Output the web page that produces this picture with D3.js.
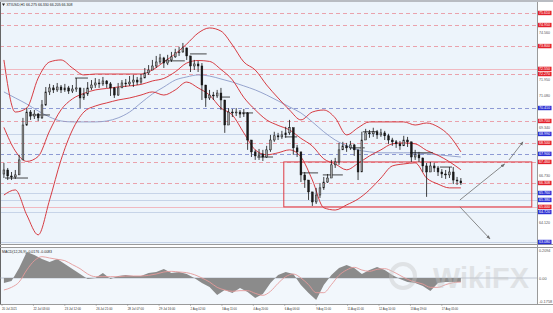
<!DOCTYPE html>
<html><head><meta charset="utf-8">
<script src="https://cdn.jsdelivr.net/npm/d3@7"></script>
<style>
body{margin:0;background:#fff}
svg{display:block}
text{font-family:"Liberation Sans",Arial,sans-serif}
</style></head>
<body><svg id="c" width="553" height="313"></svg>
<script>
// ---------- DATA ----------
const title = "XTIUSD,H1  66.275 66.330 66.205 66.308";
const macdTitle = "MACD(12,26,9) -0.0176 -0.0083";
// 4-hour bars (hour index = 4*i)
const firstOpen = 66.80;
const barClose=[67.02,66.69,66.64,66.75,67.57,69.48,70.19,69.97,70.08,69.87,
70.58,71.29,71.51,71.40,71.56,71.40,71.51,71.34,71.45,71.51,
70.96,71.18,71.51,71.67,71.78,71.73,71.89,71.73,71.51,71.12,
71.51,71.78,71.73,71.83,71.94,71.83,72.05,72.33,72.49,72.71,
72.93,73.15,72.87,73.04,73.21,73.43,73.48,73.70,73.26,72.71,
72.82,72.71,71.67,70.96,71.12,71.07,71.23,70.85,69.48,70.19,
70.14,70.19,70.08,70.14,68.66,68.01,67.79,67.90,67.73,68.12,
68.66,68.89,68.83,68.94,69.05,69.33,68.23,68.01,66.75,66.47,
65.82,65.27,65.65,66.04,66.36,66.58,67.30,67.46,68.12,68.34,
68.23,68.39,68.12,66.91,68.66,69.05,69.00,69.11,68.94,69.05,
68.89,68.66,68.56,68.45,68.34,68.66,68.56,67.73,67.85,67.68,
67.24,66.91,67.24,67.13,66.91,66.80,66.75,66.91,66.47,66.42,66.31];
const barHigh=[67.41,67.13,66.91,67.02,67.85,69.87,70.41,70.30,70.30,70.14,
70.85,71.56,71.73,71.67,71.78,71.67,71.73,71.62,71.67,72.05,
71.51,71.51,71.83,71.94,72.05,72.00,72.11,71.94,71.83,71.56,
71.78,71.94,72.00,72.16,72.22,72.11,72.27,72.60,72.76,73.04,
73.26,73.37,73.21,73.32,73.48,73.65,73.76,73.97,73.70,73.26,
73.04,72.99,72.87,71.67,71.40,71.29,71.40,71.51,70.85,70.41,
70.36,70.41,70.30,70.36,70.19,68.66,68.12,68.17,68.12,68.34,
68.94,69.11,69.05,69.16,69.38,69.76,69.33,68.39,68.01,66.91,
66.47,65.82,66.04,66.31,66.64,66.80,67.57,67.68,68.50,68.56,
68.50,68.61,68.45,68.12,69.11,69.27,69.21,69.33,69.21,69.27,
69.16,69.00,68.78,68.66,68.61,68.89,68.83,68.56,68.12,68.01,
67.68,67.41,67.46,67.41,67.24,67.07,67.02,67.18,67.18,66.64,66.58];
const barLow=[66.58,66.47,66.47,66.53,66.75,67.57,69.43,69.76,69.81,69.70,
69.81,70.52,71.12,71.23,71.29,71.23,71.29,71.18,71.23,71.29,
70.41,70.85,71.07,71.40,71.51,71.51,71.62,71.51,71.07,70.96,
71.07,71.51,71.56,71.62,71.56,71.67,71.73,72.05,72.22,72.49,
72.60,72.82,72.60,72.76,72.93,73.15,73.26,73.43,73.04,72.38,
72.49,72.38,70.85,70.47,70.85,70.85,70.96,70.30,69.05,69.48,
69.92,69.97,69.87,69.92,68.12,67.73,67.57,67.57,67.51,67.68,
68.01,68.56,68.66,68.72,68.78,68.94,67.85,67.73,66.36,66.04,
65.38,65.05,65.16,65.49,65.93,66.31,66.58,67.13,67.30,68.12,
68.01,68.12,67.79,66.47,66.91,68.66,68.78,68.83,68.72,68.83,
68.66,68.45,68.34,68.23,68.12,68.34,68.28,67.46,67.57,67.46,
66.91,65.55,66.91,66.91,66.69,66.58,66.53,66.58,66.25,66.20,66.20];
// Bollinger bands + slow MA, sampled every 12 hours
const bbUpper=[73.04,70.19,70.41,72.05,72.93,73.04,72.60,72.22,72.27,72.27,
72.27,72.27,72.27,72.49,72.93,73.37,73.91,74.51,74.79,74.62,
73.86,72.93,72.49,71.67,70.96,70.30,69.76,70.19,70.30,69.87,
68.94,69.33,69.65,69.65,69.65,69.65,69.48,69.59,69.38,68.89,68.01];
const bbMid=[69.35,68.06,67.49,67.76,69.16,70.31,70.91,71.21,71.40,71.48,
71.56,71.62,71.70,71.89,72.03,72.39,72.87,73.01,72.96,72.52,
71.95,70.99,70.31,69.76,69.46,69.21,68.75,68.33,67.63,67.35,
67.03,67.38,67.79,68.12,68.45,68.50,68.45,68.09,67.82,67.47,67.03];
const bbLower=[65.65,65.93,64.56,63.47,65.38,67.57,69.21,70.19,70.52,70.69,
70.85,70.96,71.12,71.29,71.12,71.40,71.83,71.51,71.12,70.41,
70.03,69.05,68.12,67.85,67.96,68.12,67.73,66.47,64.95,64.83,
65.11,65.43,65.93,66.58,67.24,67.35,67.41,66.58,66.25,66.04,66.04];
const maSlow=[71.29,70.96,70.63,70.25,69.92,69.70,69.65,69.65,69.65,69.70,
69.87,70.19,70.69,71.18,71.56,71.94,72.11,72.22,72.16,72.00,
71.83,71.62,71.40,71.12,70.80,70.47,70.14,69.65,69.11,68.66,
68.34,68.12,68.01,67.96,67.96,67.96,67.96,67.90,67.85,67.79,67.73];
// MACD sampled every 8 hours
const macdHist=[-0.0375,-0.0225,0.075,0.195,0.1725,0.1425,0.12,0.1425,0.105,0.0675,
0.03,-0.0075,0.0,0.0375,-0.0075,0.015,0.0225,0.015,0.015,0.0375,
0.045,0.0675,0.0375,0.045,0.03,0.0,-0.0375,-0.0675,-0.1275,-0.09,
-0.1125,-0.075,-0.105,-0.15,-0.12,-0.0375,0.0225,0.045,0.03,-0.0525,
-0.1125,-0.165,-0.0525,0.0225,0.075,0.0975,0.075,0.03,0.06,0.0825,
0.06,0.0225,-0.0075,-0.03,-0.0375,-0.06,-0.0975,-0.0375,-0.03,-0.03,-0.03];
const macdSignal=[-0.09,-0.07,-0.03,0.06,0.13,0.16,0.15,0.14,0.13,0.10,
0.07,0.03,0.01,0.01,0.01,0.01,0.015,0.015,0.015,0.02,
0.03,0.045,0.05,0.045,0.04,0.025,0.0,-0.03,-0.07,-0.09,
-0.1,-0.095,-0.095,-0.115,-0.13,-0.1,-0.04,0.01,0.03,0.0,
-0.05,-0.11,-0.11,-0.05,0.02,0.06,0.08,0.06,0.05,0.065,
0.07,0.05,0.02,-0.01,-0.03,-0.045,-0.07,-0.07,-0.05,-0.035,-0.03];
const macdTicks=[0.2094,0,-0.1758];
const macdTickLabels=["0.2094","0.00","-0.1758"];
// horizontal levels
const levelPrices=[75.61,74.95,73.80,72.55,72.27,70.41,69.70,68.99,68.50,67.90,67.46,66.308,65.76,65.38,65.00,64.72,63.08];
const levelKinds=["rd","rd","rd","rs","rd","bd","rd","bs","rd","bd","rd","rd","bs","bs","rs","bs","bs"];
const priceTicks=[74.56,73.69,72.82,71.95,71.08,70.21,69.34,68.47,67.60,66.73,65.86,64.99,64.12,63.25];
// time axis (hours from start)
const timeTickHours=[0,33,66,99,132,165,198,231,264,297,330,363,396,429,462];
const timeTickLabels=["20 Jul 2021","22 Jul 03:00","23 Jul 12:00","26 Jul 21:00","28 Jul 07:00","29 Jul 16:00","2 Aug 02:00","3 Aug 11:00","4 Aug 20:00","6 Aug 06:00","9 Aug 15:00","11 Aug 01:00","12 Aug 10:00","13 Aug 19:00","17 Aug 05:00"];
// short black level marks
const markStart=[3.2,31.5,76.7,171,197.5,229,252,268,297,313,337,365.5,379,428.6,460];
const markEnd=[27.3,50.4,90.3,192,215,239.5,263.7,284.7,310,332,358,381,394,452.7,472.7];
const markPrice=[66.58,70.03,72.05,72.99,73.37,71.01,70.14,67.73,68.83,66.86,66.75,68.23,69.11,67.96,67.18];
// rectangle + arrows
const boxHours=[296,556.5], boxPrices=[67.46,65.00];
const arrowFromH=[481,532.6,481], arrowFromP=[65.38,67.57,65.00];
const arrowToH=[528,547.3,512.6], arrowToP=[67.35,68.56,63.25];

// ---------- CHART ----------
const svg=d3.select("#c");
const PR=537, MB=244, MT=247, MBOT=304;
const x=d3.scaleLinear().domain([0,1000]).range([2,954]);
const y=d3.scaleLinear().domain([62.97,76.32]).range([244,0]);
const my=d3.scaleLinear().domain([-0.195,0.2325]).range([304,247]);

svg.append("rect").attr("width",553).attr("height",313).attr("fill","#ffffff");
svg.append("rect").attr("x",0).attr("y",0).attr("width",PR).attr("height",MB).attr("fill","#edf4fb");
svg.append("rect").attr("x",0).attr("y",MT).attr("width",PR).attr("height",MBOT-MT).attr("fill","#f2f7fc");
svg.append("rect").attr("x",0).attr("y",0).attr("width",553).attr("height",2).attr("fill","#b9bcc2");
const defs=svg.append("defs");
defs.append("clipPath").attr("id","cm").append("rect").attr("x",0).attr("y",2).attr("width",PR).attr("height",MB-2);
defs.append("clipPath").attr("id","cd").append("rect").attr("x",0).attr("y",MT).attr("width",PR).attr("height",MBOT-MT);
defs.append("marker").attr("id","ah").attr("viewBox","0 0 10 10").attr("refX",9).attr("refY",5)
 .attr("markerWidth",5).attr("markerHeight",5).attr("orient","auto")
 .append("path").attr("d","M0,1L10,5L0,9z").attr("fill","#6d6d6d");

const gm=svg.append("g").attr("clip-path","url(#cm)");
const kindStroke={rd:"#eaa2ac",rs:"#f1b9c1",bd:"#8e9ad4",bs:"#c7d4e8"};
levelPrices.forEach((p,i)=>{
  const k=levelKinds[i];
  gm.append("line").attr("x1",0).attr("x2",PR).attr("y1",Math.round(y(p))+0.5).attr("y2",Math.round(y(p))+0.5)
   .attr("stroke",kindStroke[k]).attr("stroke-width",1)
   .attr("stroke-dasharray",k.endsWith("d")?"4,3":null);
});
const sampleH=i=>12*i+2;
const lineGen=arr=>d3.line().x((d,i)=>x(sampleH(i))).y(d=>y(d)).curve(d3.curveMonotoneX)(arr);
gm.append("path").attr("d",lineGen(maSlow)).attr("fill","none").attr("stroke","#8c9bc8").attr("stroke-width",0.9);
[bbUpper,bbMid,bbLower].forEach(a=>{
  gm.append("path").attr("d",lineGen(a)).attr("fill","none").attr("stroke","#d4272e").attr("stroke-width",0.9);
});
gm.append("rect").attr("x",x(boxHours[0])).attr("y",y(boxPrices[0]))
 .attr("width",x(boxHours[1])-x(boxHours[0])).attr("height",y(boxPrices[1])-y(boxPrices[0]))
 .attr("fill","none").attr("stroke","#de3a44").attr("stroke-width",1);
markPrice.forEach((p,i)=>{
  gm.append("line").attr("x1",x(markStart[i])).attr("x2",x(markEnd[i])).attr("y1",y(p)).attr("y2",y(p))
   .attr("stroke","#1a1a1a").attr("stroke-width",0.8);
});
const bw=1.8;
barClose.forEach((c,i)=>{
  const o=i===0?firstOpen:barClose[i-1];
  const hi=Math.max(barHigh[i],o,c), lo=Math.min(barLow[i],o,c);
  const cx=x(4*i+2);
  gm.append("line").attr("x1",cx).attr("x2",cx).attr("y1",y(hi)).attr("y2",y(lo)).attr("stroke","#111").attr("stroke-width",0.8);
  const top=y(Math.max(o,c)), bot=y(Math.min(o,c));
  gm.append("rect").attr("x",cx-bw/2).attr("y",top).attr("width",bw).attr("height",Math.max(0.8,bot-top))
   .attr("fill",c>=o?"#9d9d9d":"#1a1a1a").attr("stroke","#111").attr("stroke-width",0.45);
});
arrowFromH.forEach((h,i)=>{
  gm.append("line").attr("x1",x(h)).attr("y1",y(arrowFromP[i])).attr("x2",x(arrowToH[i])).attr("y2",y(arrowToP[i]))
   .attr("stroke","#6d6d6d").attr("stroke-width",0.8).attr("marker-end","url(#ah)");
});
svg.append("path").attr("d","M2,3.5L5,3.5L3.5,6z").attr("fill","#222");
svg.append("text").attr("x",6.5).attr("y",6.3).attr("font-size",4.2).attr("fill","#222")
 .attr("textLength",66).attr("lengthAdjust","spacingAndGlyphs").text(title);

svg.append("line").attr("x1",0.5).attr("x2",0.5).attr("y1",2).attr("y2",MBOT).attr("stroke","#666");
svg.append("line").attr("x1",PR+0.5).attr("x2",PR+0.5).attr("y1",2).attr("y2",MBOT).attr("stroke","#9a9a9a");
svg.append("line").attr("x1",0).attr("x2",553).attr("y1",MB+0.5).attr("y2",MB+0.5).attr("stroke","#9a9a9a");
svg.append("line").attr("x1",0).attr("x2",553).attr("y1",MT+0.5).attr("y2",MT+0.5).attr("stroke","#9a9a9a");
svg.append("line").attr("x1",0).attr("x2",553).attr("y1",MBOT+0.5).attr("y2",MBOT+0.5).attr("stroke","#9a9a9a");

priceTicks.forEach(p=>{
  const yy=y(p);
  if(levelPrices.some(q=>Math.abs(y(q)-yy)<5)) return;
  svg.append("text").attr("x",539).attr("y",yy+1.5).attr("font-size",4).attr("fill","#555")
   .attr("textLength",11).attr("lengthAdjust","spacingAndGlyphs").text(p.toFixed(3));
});
levelPrices.forEach((p,i)=>{
  const red=levelKinds[i][0]==="r";
  const yy=y(p);
  svg.append("rect").attr("x",538).attr("y",yy-2.2).attr("width",13.5).attr("height",4.4).attr("fill",red?"#e3222c":"#2b2fd3");
  svg.append("text").attr("x",539).attr("y",yy+1.4).attr("font-size",3.8).attr("fill","#fff")
   .attr("textLength",11).attr("lengthAdjust","spacingAndGlyphs").text(p.toFixed(3));
});

const gd=svg.append("g").attr("clip-path","url(#cd)");
const mh=i=>8*i+2;
gd.append("line").attr("x1",0).attr("x2",PR).attr("y1",my(0)).attr("y2",my(0)).attr("stroke","#9aa5b5").attr("stroke-width",0.6);
gd.append("path").attr("d",d3.area().x((d,i)=>x(mh(i))).y0(my(0)).y1(d=>my(d))(macdHist)).attr("fill","#8b8b8b");
gd.append("path").attr("d",d3.line().x((d,i)=>x(mh(i))).y(d=>my(d)).curve(d3.curveMonotoneX)(macdSignal))
 .attr("fill","none").attr("stroke","#e59a9a").attr("stroke-width",0.9);
svg.append("text").attr("x",2).attr("y",252.5).attr("font-size",4).attr("fill","#222")
 .attr("textLength",50).attr("lengthAdjust","spacingAndGlyphs").text(macdTitle);
macdTicks.forEach((v,i)=>{
  svg.append("text").attr("x",539).attr("y",Math.min(302.5,Math.max(251,my(v)+1.5))).attr("font-size",4).attr("fill","#555")
   .attr("textLength",macdTickLabels[i].length*1.9).attr("lengthAdjust","spacingAndGlyphs").text(macdTickLabels[i]);
});
const wm=svg.append("g").attr("opacity",0.4);
wm.append("circle").attr("cx",403).attr("cy",276).attr("r",12).attr("fill","none").attr("stroke","#c4c4c4").attr("stroke-width",4);
wm.append("text").attr("x",433).attr("y",288).attr("font-size",29).attr("font-weight","bold").attr("fill","#c4c4c4")
 .attr("textLength",96).attr("lengthAdjust","spacingAndGlyphs").text("WikiFX");

timeTickHours.forEach((h,i)=>{
  svg.append("line").attr("x1",x(h)).attr("x2",x(h)).attr("y1",MBOT).attr("y2",MBOT+2).attr("stroke","#888").attr("stroke-width",0.5);
  svg.append("text").attr("x",x(h)).attr("y",310).attr("font-size",4).attr("fill","#333")
   .attr("textLength",timeTickLabels[i].length*1.35).attr("lengthAdjust","spacingAndGlyphs").text(timeTickLabels[i]);
});
</script></body></html>
